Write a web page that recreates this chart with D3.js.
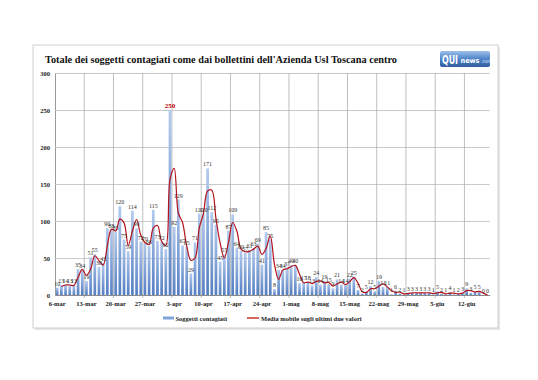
<!DOCTYPE html>
<html><head><meta charset="utf-8">
<script src="https://cdn.jsdelivr.net/npm/d3@7"></script>
<style>html,body{margin:0;padding:0;background:#fff;}svg{display:block;}</style>
</head><body>
<svg id="c" width="538" height="380"></svg>
<script>
// ---- data ----
const startDate = new Date(2020, 2, 6);
const values = [
 10,13,14,13,13,35,34,19,51,55,
 38,43,90,88,85,120,75,59,114,90,
 72,70,66,115,73,72,62,250,92,129,
 67,65,29,71,110,110,171,112,95,45,
 55,87,109,64,60,57,61,63,69,41,
 85,75,8,34,34,37,40,40,16,17,
 18,13,24,14,19,15,9,21,14,14,
 22,25,7,2,5,12,5,19,11,11,
 1,6,2,1,3,3,3,3,3,3,
 1,5,2,1,4,1,2,3,9,3,
 5,5,0,0];
const tickLabels = ["6-mar","13-mar","20-mar","27-mar","3-apr","10-apr","17-apr","24-apr","1-mag","8-mag","15-mag","22-mag","29-mag","5-giu","12-giu"];
const yTicks = [0,50,100,150,200,250,300];
const seriesNames = ["Soggetti contagiati","Media mobile sugli ultimi due valori"];
const title = "Totale dei soggetti contagiati come dai bollettini dell'Azienda Usl Toscana centro";

const days = d3.timeDay.range(startDate, d3.timeDay.offset(startDate, values.length));
const movingAvg = values.map((v,i)=> i===0 ? null : (v + values[i-1]) / 2);

// ---- layout ----
const svg = d3.select("#c");
const serif = "'Liberation Serif','DejaVu Serif',serif";
const L = 55, R = 55 + values.length*4.18, T = 73, B = 295;

// frame
svg.append("rect").attr("x",35).attr("y",47).attr("width",465).attr("height",283).attr("fill","#e6e6e6");
svg.append("rect").attr("x",33).attr("y",45).attr("width",465).attr("height",283)
  .attr("fill","#fff").attr("stroke","#cfcfcf").attr("stroke-width",1);

// title
svg.append("text").attr("x",45).attr("y",63).attr("font-family",serif).attr("font-weight","bold")
  .attr("font-size",10.5).attr("fill","#111").attr("textLength",352).attr("lengthAdjust","spacingAndGlyphs").text(title);

// logo
const defs = svg.append("defs");
const lg = defs.append("linearGradient").attr("id","logoG").attr("x1",0).attr("y1",0).attr("x2",0).attr("y2",1);
lg.append("stop").attr("offset",0).attr("stop-color","#9cc0ea");
lg.append("stop").attr("offset",0.5).attr("stop-color","#4f84c9");
lg.append("stop").attr("offset",1).attr("stop-color","#2f5f9f");
svg.append("rect").attr("x",440).attr("y",51).attr("width",50).attr("height",16).attr("rx",2).attr("fill","url(#logoG)");
svg.append("text").attr("x",442).attr("y",64).attr("font-family","'DejaVu Sans',sans-serif").attr("font-weight","bold")
  .attr("font-size",12).attr("fill","#fff").attr("textLength",16).attr("lengthAdjust","spacingAndGlyphs").text("QUI");
svg.append("text").attr("x",460.5).attr("y",63).attr("font-family","'DejaVu Sans',sans-serif").attr("font-weight","bold")
  .attr("font-size",7).attr("fill","#fff").attr("textLength",19).attr("lengthAdjust","spacingAndGlyphs").text("news");
svg.append("text").attr("x",481).attr("y",63).attr("font-family","'DejaVu Sans',sans-serif")
  .attr("font-size",5).attr("fill","#dfe9f7").text(".net");

// scales
const x = d3.scaleBand().domain(d3.range(values.length)).range([L, R]).paddingInner(0.35).paddingOuter(0.2);
const step = x.step();
const y = d3.scaleLinear().domain([0,300]).range([B, T]);

// horizontal grid + y axis
const yAxis = d3.axisLeft(y).tickValues(yTicks).tickSize(-(R-L)).tickSizeOuter(0).tickPadding(5);
const gy = svg.append("g").attr("transform",`translate(${L},0)`).call(yAxis);
gy.select(".domain").attr("stroke","#9a9a9a");
gy.selectAll(".tick line").attr("stroke","#bdbdbd").attr("stroke-width",0.8);
gy.selectAll(".tick text").attr("font-family",serif).attr("font-weight","bold").attr("font-size",6.5).attr("fill","#222");

// vertical grid (week boundaries)
const weekIdx = tickLabels.map((_,i)=>i*7);
svg.append("g").selectAll("line").data(weekIdx.slice(1)).join("line")
  .attr("x1",d=>L+d*step).attr("x2",d=>L+d*step).attr("y1",T).attr("y2",B+3)
  .attr("stroke","#b0b0b0").attr("stroke-width",0.8);

// bars
const bg = defs.append("linearGradient").attr("id","barG").attr("x1",0).attr("y1",0).attr("x2",0).attr("y2",1);
bg.append("stop").attr("offset",0).attr("stop-color","#b3caee");
bg.append("stop").attr("offset",1).attr("stop-color","#547fc2");
svg.append("g").selectAll("rect").data(values).join("rect")
  .attr("x",(d,i)=>x(i)).attr("width",x.bandwidth())
  .attr("y",d=>y(d)).attr("height",d=>B-y(d)).attr("fill","url(#barG)");

// x axis
const xAxis = d3.axisBottom(x).tickValues(weekIdx).tickFormat((d,i)=>tickLabels[i]).tickSize(0).tickPadding(6);
const gx = svg.append("g").attr("transform",`translate(0,${B})`).call(xAxis);
gx.select(".domain").attr("stroke","#8a8a8a");
gx.selectAll(".tick text").attr("font-family",serif).attr("font-weight","bold").attr("font-size",6.5).attr("fill","#222");

// moving average line
const line = d3.line().defined(d=>d.v!==null).x(d=>x(d.i)+x.bandwidth()/2).y(d=>y(d.v)).curve(d3.curveCatmullRom.alpha(0.5));
svg.append("path").datum(movingAvg.map((v,i)=>({i,v})))
  .attr("d",line).attr("fill","none").attr("stroke","#b3121b").attr("stroke-width",1.2);

// value labels
const maxV = d3.max(values);
svg.append("g").selectAll("text").data(values).join("text")
  .attr("x",(d,i)=>x(i)+x.bandwidth()/2).attr("y",d=>y(d)-2)
  .attr("text-anchor","middle").attr("font-family",serif)
  .attr("font-size",d=>d===maxV?7:6).attr("font-weight",d=>d===maxV?"bold":"normal")
  .attr("fill",d=>d===maxV?"#c00000":"#333").text(d=>d);

// legend
const leg = svg.append("g");
leg.append("rect").attr("x",163).attr("y",316.5).attr("width",11).attr("height",3).attr("fill","#7fa3d9");
leg.append("text").attr("x",175.5).attr("y",320.5).attr("font-family",serif).attr("font-weight","bold").attr("font-size",6.5).attr("fill","#222").text(seriesNames[0]);
leg.append("line").attr("x1",247).attr("x2",259).attr("y1",318).attr("y2",318).attr("stroke","#c0392b").attr("stroke-width",1.5);
leg.append("text").attr("x",261).attr("y",320.5).attr("font-family",serif).attr("font-weight","bold").attr("font-size",6.5).attr("fill","#222").text(seriesNames[1]);
</script>
</body></html>
